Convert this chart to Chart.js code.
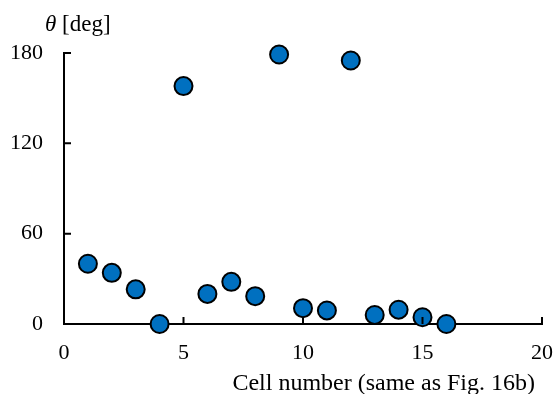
<!DOCTYPE html>
<html>
<head>
<meta charset="utf-8">
<script src="https://cdn.jsdelivr.net/npm/chart.js@4/dist/chart.umd.min.js"></script>
<style>
  html, body { margin: 0; padding: 0; background: #fff; }
  #wrap { width: 554px; height: 394px; position: relative; }
</style>
</head>
<body>
<div id="wrap"><canvas id="angleChart"></canvas></div>
<script>
// Cell numbers and measured angle per cell
const cellNumbers = [1, 2, 3, 4, 5, 6, 7, 8, 9, 10, 11, 12, 13, 14, 15, 16];
const thetaDeg = [40, 34, 23, 0, 158, 20, 28, 18.5, 179, 10.5, 9, 175, 6, 9.5, 4.5, 0];
const xTicks = [0, 5, 10, 15, 20];
const yTicks = [0, 60, 120, 180];

const serif = '"Liberation Serif", "Times New Roman", serif';

// Inside tick marks, the "θ [deg]" label above the y axis and the x axis caption
const axisDecor = {
  id: 'axisDecor',
  afterDraw(chart) {
    const ctx = chart.ctx;
    const { x, y } = chart.scales;
    const left = x.getPixelForValue(0);
    const bottom = y.getPixelForValue(0);
    ctx.save();
    ctx.strokeStyle = '#000';
    ctx.lineWidth = 2;
    ctx.beginPath();
    yTicks.slice(1).forEach(v => {
      const py = y.getPixelForValue(v);
      ctx.moveTo(left, py);
      ctx.lineTo(left + 7, py);
    });
    xTicks.slice(1).forEach(v => {
      const px = x.getPixelForValue(v);
      ctx.moveTo(px, bottom);
      ctx.lineTo(px, bottom - 7);
    });
    ctx.stroke();

    ctx.fillStyle = '#000';
    ctx.textBaseline = 'middle';
    ctx.textAlign = 'left';
    ctx.font = 'italic 23px ' + serif;
    ctx.fillText('θ', 45, 25);
    const w = ctx.measureText('θ ').width;
    ctx.font = '23px ' + serif;
    ctx.fillText('[deg]', 45 + w, 25);

    ctx.textAlign = 'right';
    ctx.font = '24px ' + serif;
    ctx.fillText('Cell number (same as Fig. 16b)', x.right - 7, 384);
    ctx.restore();
  }
};

new Chart(document.getElementById('angleChart'), {
  type: 'scatter',
  data: {
    datasets: [{
      data: cellNumbers.map((c, i) => ({ x: c, y: thetaDeg[i] })),
      backgroundColor: '#0070C0',
      borderColor: '#000',
      borderWidth: 2,
      pointRadius: 9,
      pointHoverRadius: 9,
      clip: false
    }]
  },
  options: {
    responsive: true,
    maintainAspectRatio: false,
    animation: false,
    layout: { padding: { left: 0, top: 53, right: 0, bottom: 0 } },
    plugins: {
      legend: { display: false },
      tooltip: { enabled: false }
    },
    scales: {
      x: {
        type: 'linear',
        min: 0,
        max: 20,
        afterBuildTicks: axis => { axis.ticks = xTicks.map(v => ({ value: v })); },
        afterFit: axis => {
          axis.height = 70;
          axis.paddingLeft = 0;
          axis.paddingRight = 12;
        },
        grid: { display: true, drawOnChartArea: false, drawTicks: false },
        border: { display: true, color: '#000', width: 2 },
        ticks: {
          padding: 16,
          color: '#000',
          font: { family: serif, size: 22 }
        }
      },
      y: {
        type: 'linear',
        min: 0,
        max: 180,
        afterBuildTicks: axis => { axis.ticks = yTicks.map(v => ({ value: v })); },
        afterFit: axis => { axis.width = 64; },
        grid: { display: true, drawOnChartArea: false, drawTicks: false },
        border: { display: true, color: '#000', width: 2 },
        ticks: {
          padding: 21,
          color: '#000',
          font: { family: serif, size: 22 }
        }
      }
    }
  },
  plugins: [axisDecor]
});
</script>
</body>
</html>
